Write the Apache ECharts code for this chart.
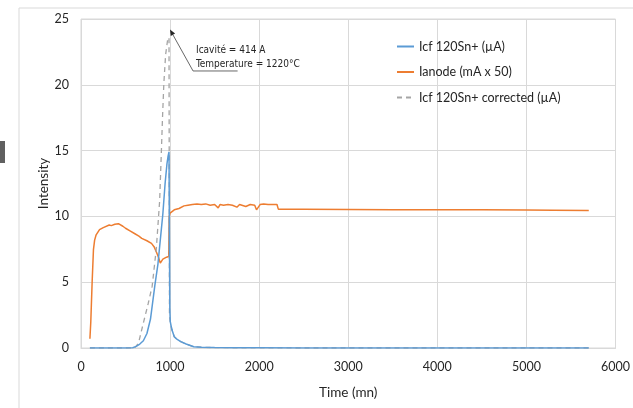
<!DOCTYPE html>
<html><head><meta charset="utf-8">
<script src="https://cdn.jsdelivr.net/npm/echarts@6/dist/echarts.min.js"></script>
<style>html,body{margin:0;padding:0;background:#fff}#c{width:633px;height:408px}</style>
</head><body><div id="c"></div>
<script>
var xTicks = [0, 1000, 2000, 3000, 4000, 5000, 6000];
var yTicks = [0, 5, 10, 15, 20, 25];

var icfTime = [100,200,300,400,500,580,620,660,700,740,780,828,864,890,919,944,965,978,988,993,997,1002,1020,1047,1080,1120,1180,1266,1350,1500,1700,2000,2500,3000,4000,5000,5700];
var icfVal  = [0,0,0,0,0,0.02,0.12,0.3,0.55,1.1,2.2,4.7,6.4,8.2,10.2,12.5,14.0,14.6,14.9,8.0,3.0,2.0,1.4,0.86,0.65,0.48,0.3,0.1,0.06,0.03,0.02,0.01,0,0,0,0,0];

var corTime = [100,200,300,400,500,600,645,700,755,799,846,883,900,915,930,950,972,988,993,1002,1020,1047,1080,1120,1180,1266,1350,1500,1700,2000,2500,3000,4000,5000,5700];
var corVal  = [0,0,0,0,0,0,0.36,1.9,3.4,4.7,7.6,11.2,14.5,17.5,20.1,22.3,23.4,23.6,2.5,2.0,1.4,0.86,0.65,0.48,0.3,0.1,0.06,0.03,0.02,0.01,0,0,0,0,0];

var anodeTime = [100,110,125,140,153,170,208,250,317,340,360,380,400,420,440,470,500,550,600,650,682,740,791,820,846,870,890,905,919,937,960,985,990,1000,1047,1100,1156,1200,1250,1302,1350,1400,1450,1500,1540,1560,1600,1650,1700,1750,1780,1800,1850,1900,1950,1970,1990,2010,2050,2100,2150,2200,2215,2300,2500,3000,3500,4000,4500,5000,5300,5700];
var anodeVal  = [0.7,2.0,5.0,7.5,8.2,8.6,9.0,9.15,9.35,9.3,9.45,9.4,9.5,9.45,9.35,9.25,9.1,8.9,8.7,8.5,8.33,8.15,7.95,7.7,7.3,6.9,6.45,6.5,6.75,6.85,6.9,6.95,10.0,10.25,10.5,10.6,10.8,10.85,10.9,10.95,10.9,10.95,10.85,10.9,10.65,10.9,10.85,10.9,10.85,10.7,10.9,10.8,10.75,10.9,10.85,10.5,10.5,10.9,10.95,10.9,10.9,10.9,10.55,10.55,10.55,10.52,10.5,10.5,10.5,10.48,10.47,10.45];

var markerTime = 990;
var annText = ['Icavit\u00e9 = 414 A', 'Temperature = 1220\u00b0C'];

function pairs(t, v) { return t.map(function (x, i) { return [x, v[i]]; }); }

var chart = echarts.init(document.getElementById('c'), null, {renderer: 'canvas'});
var font = 'Lato, "Open Sans", sans-serif';
chart.setOption({
  animation: false,
  backgroundColor: '#fff',
  grid: {left: 81, right: 4, top: 19, bottom: 60, show: true, borderColor: '#d9d9d9', borderWidth: 1},
  legend: {
    orient: 'vertical', left: 396, top: 40, padding: 0, itemGap: 12.5, itemWidth: 17, itemHeight: 12,
    itemStyle: {opacity: 0},
    textStyle: {fontFamily: font, fontSize: 12.5, color: '#262626'},
    data: ['Icf 120Sn+ (\u00b5A)', 'Ianode (mA x 50)', 'Icf 120Sn+ corrected (\u00b5A)']
  },
  xAxis: {
    type: 'value', min: 0, max: 6000, interval: 1000,
    name: 'Time (mn)', nameLocation: 'middle', nameGap: 38,
    nameTextStyle: {fontFamily: font, fontSize: 13.5, color: '#262626'},
    axisLine: {show: true, lineStyle: {color: '#d9d9d9'}},
    axisTick: {show: false},
    axisLabel: {fontFamily: font, fontSize: 12.5, color: '#262626', margin: 12,
      formatter: function (v) { return String(v); }},
    splitLine: {show: true, lineStyle: {color: '#d9d9d9'}}
  },
  yAxis: {
    type: 'value', min: 0, max: 25, interval: 5,
    name: 'Intensity', nameLocation: 'middle', nameGap: 30, nameMoveOverlap: false,
    nameTextStyle: {fontFamily: font, fontSize: 13.5, color: '#262626'},
    axisLine: {show: false}, axisTick: {show: false},
    axisLabel: {fontFamily: font, fontSize: 12.5, color: '#262626', margin: 12,
      formatter: function (v) { return String(v); }},
    splitLine: {show: true, lineStyle: {color: '#d9d9d9'}}
  },
  series: [
    {name: 'Ianode (mA x 50)', type: 'line', symbol: 'none', data: pairs(anodeTime, anodeVal),
     lineStyle: {color: '#ed7d31', width: 1.5}, itemStyle: {color: '#ed7d31'}, z: 2},
    {name: 'Icf 120Sn+ corrected (\u00b5A)', type: 'line', symbol: 'none', data: pairs(corTime, corVal),
     lineStyle: {color: '#a5a5a5', width: 1.3, type: [5, 4]}, itemStyle: {color: '#a5a5a5'}, z: 3},
    {name: 'Icf 120Sn+ (\u00b5A)', type: 'line', symbol: 'none', data: pairs(icfTime, icfVal),
     lineStyle: {color: '#5b9bd5', width: 1.5}, itemStyle: {color: '#5b9bd5'}, z: 4}
  ]
});

var top = chart.convertToPixel({xAxisIndex: 0, yAxisIndex: 0}, [markerTime, 25]);
var bot = chart.convertToPixel({xAxisIndex: 0, yAxisIndex: 0}, [markerTime, 0]);
var tip = chart.convertToPixel({xAxisIndex: 0, yAxisIndex: 0}, [999, 24.2]);
var knee = chart.convertToPixel({xAxisIndex: 0, yAxisIndex: 0}, [1258, 21.05]);
var endp = chart.convertToPixel({xAxisIndex: 0, yAxisIndex: 0}, [1758, 21.05]);
var txt1 = chart.convertToPixel({xAxisIndex: 0, yAxisIndex: 0}, [1291, 22.65]);
var txt2 = chart.convertToPixel({xAxisIndex: 0, yAxisIndex: 0}, [1291, 21.55]);
var dx = tip[0] - knee[0], dy = tip[1] - knee[1], L = Math.sqrt(dx*dx + dy*dy);
var ux = dx / L, uy = dy / L, hl = 6, hw = 2.5;
var base = [tip[0] - ux*hl, tip[1] - uy*hl];
var annFont = '"Liberation Sans Narrow", "DejaVu Sans Condensed", sans-serif';

chart.setOption({
  graphic: [
    {type: 'line', silent: true, z: 100, shape: {x1: top[0], y1: top[1] - 1, x2: bot[0], y2: bot[1] + 12},
     style: {stroke: '#404040', lineWidth: 1.5, lineDash: [1.5, 1.5]}},
    {type: 'polyline', silent: true, z: 100, shape: {points: [endp, knee, base]},
     style: {stroke: '#404040', lineWidth: 0.8, fill: null}},
    {type: 'polygon', silent: true, z: 100, shape: {points: [tip, [base[0] - uy*hw, base[1] + ux*hw], [base[0] + uy*hw, base[1] - ux*hw]]},
     style: {fill: '#262626'}},
    {type: 'text', silent: true, z: 100, x: txt1[0], y: txt1[1],
     style: {text: annText[0], font: '10px ' + annFont, fill: '#262626', textVerticalAlign: 'middle'}},
    {type: 'text', silent: true, z: 100, x: txt2[0], y: txt2[1],
     style: {text: annText[1], font: '10px ' + annFont, fill: '#262626', textVerticalAlign: 'middle'}},
    {type: 'line', silent: true, shape: {x1: 19, y1: 8, x2: 633, y2: 8}, style: {stroke: '#d9d9d9', lineWidth: 1}},
    {type: 'line', silent: true, shape: {x1: 19, y1: 8, x2: 19, y2: 408}, style: {stroke: '#d9d9d9', lineWidth: 1}},
    {type: 'rect', silent: true, shape: {x: 0, y: 141, width: 5, height: 22}, style: {fill: '#606060'}}
  ]
});
</script></body></html>
